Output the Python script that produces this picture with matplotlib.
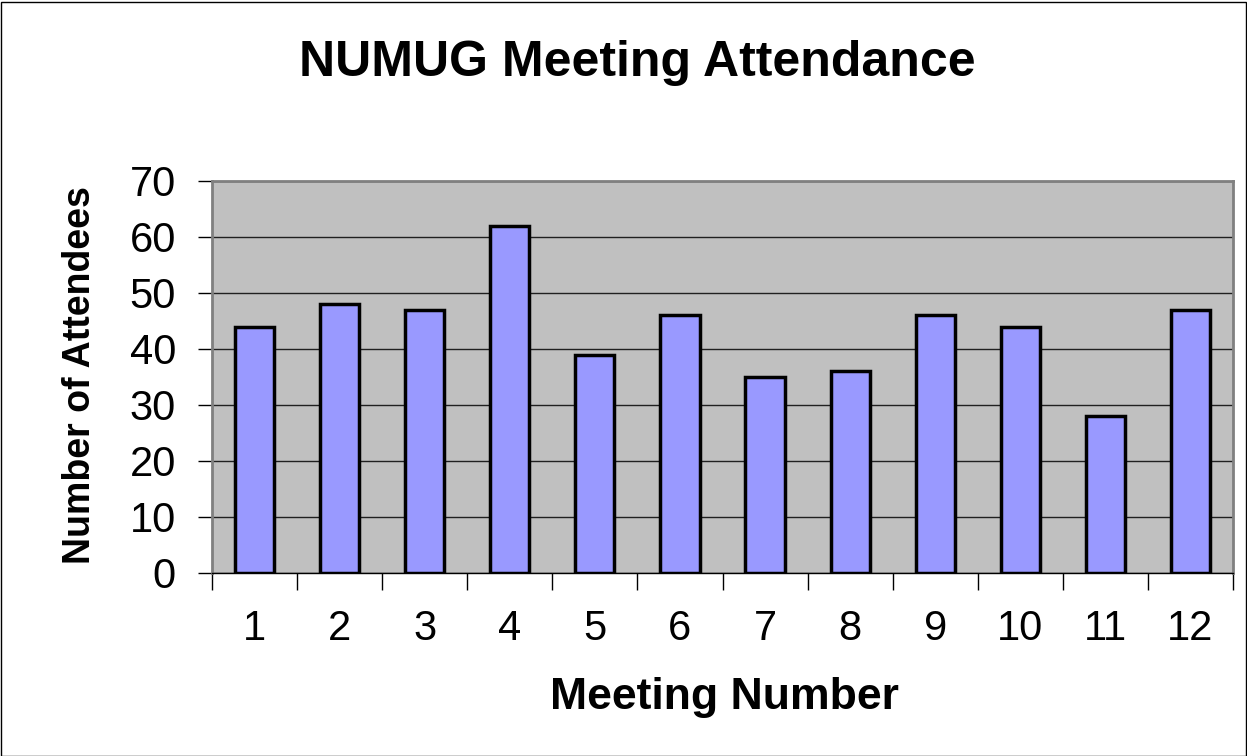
import matplotlib.pyplot as plt
from matplotlib.patches import Rectangle

# meeting attendance data
meetings = [1, 2, 3, 4, 5, 6, 7, 8, 9, 10, 11, 12]
attendees = [44, 48, 47, 62, 39, 46, 35, 36, 46, 44, 28, 47]

plt.rcParams['font.family'] = ['Liberation Sans', 'DejaVu Sans']

fig = plt.figure(figsize=(12.47, 7.56), dpi=100)
ax = fig.add_axes([212/1247, 1-573/756, (1233-212)/1247, (573-181)/756])

ax.set_facecolor('#c0c0c0')
ax.bar(range(len(meetings)), attendees, width=0.46, color='#9999ff',
       edgecolor='black', linewidth=2.5, zorder=3)

ax.set_xlim(-0.5, len(meetings) - 0.5)
ax.set_ylim(0, 70)
ax.set_yticks(range(0, 71, 10))
ax.yaxis.grid(True, color='#202020', linewidth=1.0, zorder=1)

# ticks on category boundaries, labels in the middle
ax.set_xticks([i - 0.5 for i in range(len(meetings) + 1)])
ax.set_xticklabels([])
ax.set_xticks(range(len(meetings)), minor=True)
ax.set_xticklabels([str(m) for m in meetings], minor=True, fontsize=30)
ax.tick_params(axis='x', which='major', direction='out', length=12, width=1, color='black')
ax.tick_params(axis='x', which='minor', length=0, pad=26)
ax.tick_params(axis='y', direction='out', length=10, width=1, labelsize=30, pad=16)

for side in ['top', 'right', 'left']:
    ax.spines[side].set_color('#808080')
    ax.spines[side].set_linewidth(2)
ax.spines['bottom'].set_color('black')
ax.spines['bottom'].set_linewidth(1)

fig.text(637/1247, 1-63/756, 'NUMUG Meeting Attendance', ha='center', va='center',
         fontsize=36, fontweight='bold')
fig.text(724/1247, 1-697/756, 'Meeting Number', ha='center', va='center',
         fontsize=32, fontweight='bold')
fig.text(80/1247, 1-375/756, 'Number of Attendees', ha='center', va='center',
         fontsize=27, fontweight='bold', rotation=90)

# border around the whole chart
fig.patches.append(Rectangle((0.001, 0.0), 0.998, 0.998, transform=fig.transFigure,
                             fill=False, edgecolor='black', linewidth=1))

fig.savefig('out.png', dpi=100)
